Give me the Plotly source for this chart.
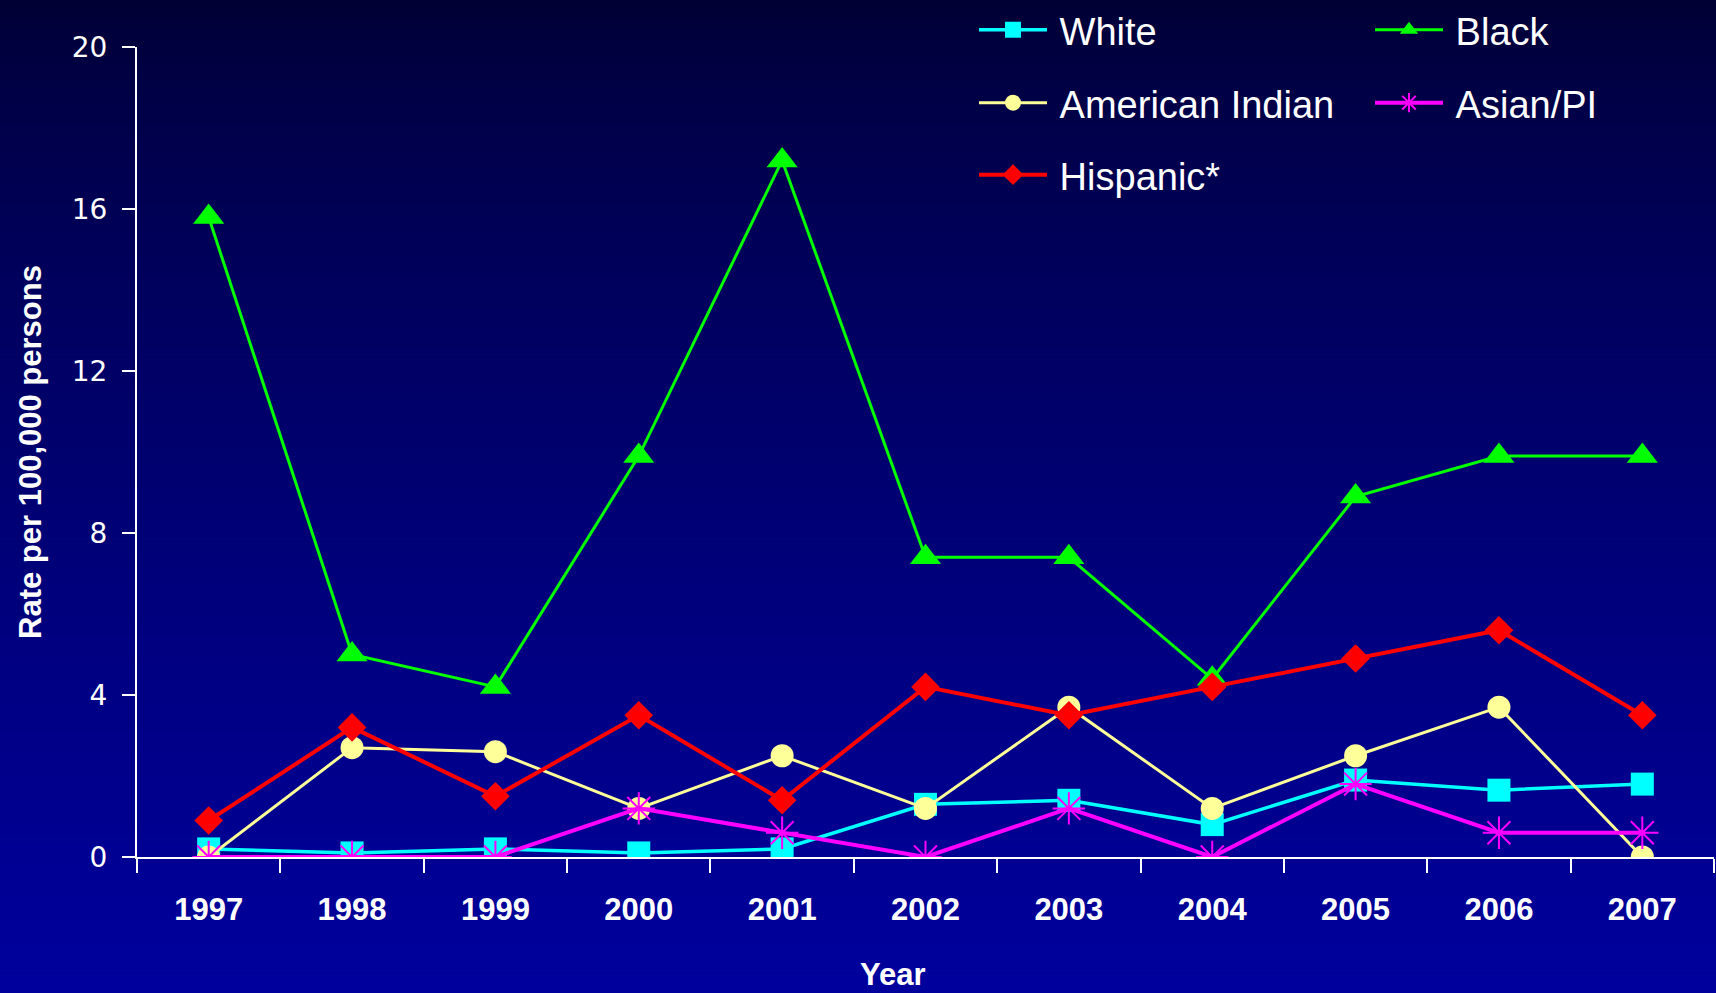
import plotly.graph_objects as go

years = ["1997", "1998", "1999", "2000", "2001", "2002", "2003", "2004", "2005", "2006", "2007"]
white = [0.2, 0.1, 0.2, 0.1, 0.2, 1.3, 1.4, 0.8, 1.9, 1.65, 1.8]
black = [15.8, 5.0, 4.2, 9.9, 17.2, 7.4, 7.4, 4.4, 8.9, 9.9, 9.9]
american_indian = [0.0, 2.7, 2.6, 1.2, 2.5, 1.2, 3.7, 1.2, 2.5, 3.7, 0.0]
asian_pi = [0.0, 0.0, 0.0, 1.2, 0.6, 0.0, 1.2, 0.0, 1.8, 0.6, 0.6]
hispanic = [0.9, 3.2, 1.5, 3.5, 1.4, 4.2, 3.5, 4.2, 4.9, 5.6, 3.5]
y_ticks = [0, 4, 8, 12, 16, 20]

W, H = 1716, 993
L, R, T, B = 137, 2, 47, 136
pw, ph = W - L - R, H - T - B

sans = "Liberation Sans Narrow, Arial Narrow, Liberation Sans, Arial"

series = [
    ("White", white, "#00FFFF", "square", 23, 3.5, "legend"),
    ("Black", black, "#00FF00", "triangle-up", 27, 3, "legend2"),
    ("American Indian", american_indian, "#FFFF99", "circle", 23, 3, "legend3"),
    ("Asian/PI", asian_pi, "#FF00FF", "asterisk-open", 27, 4, "legend4"),
    ("Hispanic*", hispanic, "#FF0000", "diamond", 22, 4, "legend5"),
]

fig = go.Figure()
for name, vals, col, sym, size, lw, leg in series:
    fig.add_trace(go.Scatter(
        x=years, y=vals, name="\u2009" + name, mode="lines+markers", legend=leg,
        line=dict(color=col, width=lw),
        marker=dict(symbol=sym, size=size, color=col,
                    line=dict(color=col, width=2 if "asterisk" in sym else 0)),
    ))

# legend slots: (left px, center y px)
slots = [(974, 30), (1370, 30), (974, 103), (1370, 103), (974, 175)]
legends = {}
for i, (px, py) in enumerate(slots):
    key = "legend" if i == 0 else "legend%d" % (i + 1)
    legends[key] = dict(
        x=(px - L) / pw, y=1 - (py - T) / ph, xanchor="left", yanchor="middle",
        bgcolor="rgba(0,0,0,0)", borderwidth=0, itemwidth=68,
        font=dict(family=sans, size=38, color="white"),
    )

# background gradient
shapes = []
n = 200
for i in range(n):
    t = (i + 0.5) / n
    b = int(52 + 106 * t ** 0.75)
    y0 = i * H / n
    y1 = (i + 1) * H / n + 0.6
    shapes.append(dict(
        type="rect", xref="paper", yref="paper", layer="below",
        x0=-L / pw, x1=1 + R / pw,
        y0=1 + (T - y0) / ph, y1=1 + (T - y1) / ph,
        fillcolor="rgb(0,0,%d)" % b, line=dict(width=0),
    ))

fig.update_layout(
    width=W, height=H,
    margin=dict(l=L, r=R, t=T, b=B, autoexpand=False),
    paper_bgcolor="#000070", plot_bgcolor="rgba(0,0,0,0)",
    shapes=shapes, showlegend=True,
    annotations=[dict(
        text="<b>Year</b>", xref="paper", yref="paper",
        x=(893 - L) / pw, y=-(974 - (H - B)) / ph, xanchor="center", yanchor="middle",
        showarrow=False, font=dict(family=sans, size=31, color="white"),
    )],
    **legends,
)
fig.update_xaxes(
    type="category", range=[-0.5, 10.5], showgrid=False, zeroline=False,
    showline=True, linecolor="white", linewidth=2,
    ticks="outside", tickson="boundaries", ticklen=14, tickwidth=2, tickcolor="white",
    tickfont=dict(family=sans, size=31, color="white", weight="bold"),
    ticklabelstandoff=24,
)
fig.update_yaxes(
    range=[0, 20], tickvals=y_ticks, showgrid=False, zeroline=False,
    showline=True, linecolor="white", linewidth=2,
    ticks="outside", ticklen=13, tickwidth=2, tickcolor="white",
    tickfont=dict(family="DejaVu Sans", size=28, color="white"),
    ticklabelstandoff=9,
    title=dict(text="<b>Rate per 100,000 persons</b>", font=dict(family=sans, size=31, color="white"), standoff=21),
)
fig.write_html("out.html", config={"displayModeBar": False},
               post_script="document.body.style.margin='0';")
